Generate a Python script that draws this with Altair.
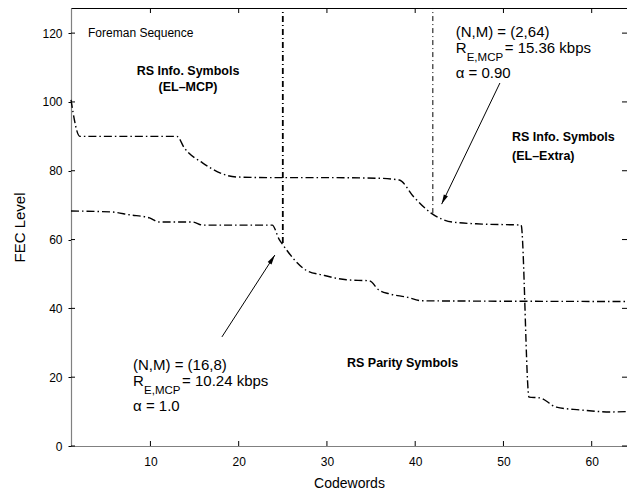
import math
import altair as alt
import pandas as pd

# ---- data ----
upper_codewords = [1, 2, 13, 13.85, 15.9, 19.7, 24, 30, 36, 38.2, 39.8, 41.8, 44.2, 47.6, 52, 52.9, 54.1, 56, 58.6, 62.3, 64]
upper_fec = [100.6, 90, 90, 86.6, 82.3, 78.2, 78, 78, 77.8, 77.3, 72.5, 67.7, 65.1, 64.5, 64.2, 14.2, 14, 11.3, 10.5, 9.9, 10]

lower_codewords = [1, 5.7, 7.6, 9.9, 11, 14.8, 15.9, 23.8, 24.6, 25, 27.7, 29.5, 32.2, 34.8, 35.9, 37.1, 39, 40.8, 64]
lower_fec = [68.3, 68, 67.2, 66.3, 65.1, 65.1, 64.2, 64.2, 60, 58.5, 51, 49.7, 48.3, 48, 45.3, 44.2, 43.3, 42.2, 42]

marker_codewords = [25, 42]
marker_fec = [59, 67.7]

x_ticks = [10, 20, 30, 40, 50, 60]
y_ticks = [0, 20, 40, 60, 80, 100, 120]

arrow_from_x = [49.6, 18.1]
arrow_from_y = [105.5, 31.7]
arrow_to_x = [43.0, 24.1]
arrow_to_y = [70.3, 55.5]

note_small_text = ["Foreman Sequence"]
note_small_x = [2.93]
note_small_y = [120.0]

bold_center_text = ["RS Info. Symbols", "(EL–MCP)"]
bold_center_x = [14.26, 14.26]
bold_center_y = [109.0, 104.4]

bold_left_text = ["RS Info. Symbols", "(EL–Extra)", "RS Parity Symbols"]
bold_left_x = [50.97, 50.97, 32.27]
bold_left_y = [89.8, 84.3, 24.1]

ann_main_text = ["(N,M) = (2,64)", "R", "α = 0.90", "(N,M) = (16,8)", "R", "α = 1.0"]
ann_main_x = [44.59, 44.59, 44.59, 8.03, 8.03, 8.03]
ann_main_y = [120.4, 115.8, 108.4, 23.6, 18.8, 11.6]

ann_sub_text = ["E,MCP", "E,MCP"]
ann_sub_x = [44.59, 8.03]
ann_sub_y = [112.9, 16.0]

ann_rest_text = ["= 15.36 kbps", "= 10.24 kbps"]
ann_rest_x = [44.59, 8.03]
ann_rest_y = [115.8, 18.8]

# ---- layout ----
W, H = 556, 438
X_DOM = [1, 64]
Y_DOM = [0, 127.3]
FONT = "Liberation Sans"

xs = alt.Scale(domain=X_DOM, nice=False, zero=False)
ys = alt.Scale(domain=Y_DOM, nice=False, zero=False)

x_axis = alt.Axis(values=x_ticks, tickSize=0, labelPadding=10, title="Codewords",
                  titleFontSize=14, titleFont=FONT, titleFontWeight="normal", titlePadding=9,
                  titleColor="black", labelFont=FONT, labelFontSize=12, labelColor="black",
                  grid=False, domainColor="#808080", domainWidth=1.2)
y_axis = alt.Axis(values=y_ticks, tickSize=3, tickColor="black", labelPadding=6, title="FEC Level",
                  titleFontSize=15, titleFont=FONT, titleFontWeight="normal", titlePadding=14,
                  titleColor="black", labelFont=FONT, labelFontSize=12, labelColor="black",
                  grid=False, domainColor="#808080", domainWidth=1.2)


def X(field="x"):
    return alt.X(f"{field}:Q", scale=xs, axis=x_axis)


def Y(field="y"):
    return alt.Y(f"{field}:Q", scale=ys, axis=y_axis)


df_upper = pd.DataFrame({"x": upper_codewords, "y": upper_fec})
df_lower = pd.DataFrame({"x": lower_codewords, "y": lower_fec})

dash_curve = [8, 3, 1.5, 3]

upper = alt.Chart(df_upper).mark_line(interpolate="monotone", color="black", strokeWidth=1.4,
                                      strokeDash=dash_curve).encode(x=X(), y=Y())
lower = alt.Chart(df_lower).mark_line(interpolate="monotone", color="black", strokeWidth=1.4,
                                      strokeDash=dash_curve).encode(x=X(), y=Y())

df_m1 = pd.DataFrame({"x": marker_codewords[:1], "y": marker_fec[:1]})
df_m2 = pd.DataFrame({"x": marker_codewords[1:], "y": marker_fec[1:]})
m1 = alt.Chart(df_m1).mark_rule(color="black", strokeWidth=1.8, strokeDash=[6, 3, 1, 3]).encode(
    x=X(), y=Y(), y2=alt.value(0))
m2 = alt.Chart(df_m2).mark_rule(color="black", strokeWidth=1, strokeDash=[5, 3, 1, 3]).encode(
    x=X(), y=Y(), y2=alt.value(0))

# inward ticks on all four sides
df_xt = pd.DataFrame({"x": x_ticks})
df_yt = pd.DataFrame({"y": y_ticks})
tb = alt.Chart(df_xt).mark_rule(color="black").encode(x=X(), y=alt.value(H), y2=alt.value(H - 5))
tt = alt.Chart(df_xt).mark_rule(color="black").encode(x=X(), y=alt.value(0), y2=alt.value(5))
tl = alt.Chart(df_yt).mark_rule(color="black").encode(y=Y(), x=alt.value(0), x2=alt.value(4))
tr = alt.Chart(df_yt).mark_rule(color="black").encode(y=Y(), x=alt.value(W), x2=alt.value(W - 5))

# arrows
px_x = W / (X_DOM[1] - X_DOM[0])
px_y = H / (Y_DOM[1] - Y_DOM[0])
angles = []
for x1, y1, x2, y2 in zip(arrow_from_x, arrow_from_y, arrow_to_x, arrow_to_y):
    dxp = (x2 - x1) * px_x
    dyp = -(y2 - y1) * px_y
    angles.append(math.degrees(math.atan2(dxp, -dyp)) % 360)
df_arr = pd.DataFrame({"x": arrow_from_x, "y": arrow_from_y, "x2": arrow_to_x, "y2": arrow_to_y, "ang": angles})
arr_line = alt.Chart(df_arr).mark_rule(color="black", strokeWidth=1).encode(
    x=X(), y=Y(), x2="x2:Q", y2="y2:Q")
arr_head = alt.Chart(df_arr).mark_point(shape="M0,0L-0.4,1.7L0.4,1.7Z", filled=True, color="black",
                                         size=130, opacity=1).encode(
    x=X("x2"), y=Y("y2"), angle=alt.Angle("ang:Q", scale=None))


def text_layer(texts, xv, yv, size, weight="normal", align="left", dx=0):
    df = pd.DataFrame({"x": xv, "y": yv, "t": texts})
    return alt.Chart(df).mark_text(font=FONT, fontSize=size, fontWeight=weight, align=align,
                                   baseline="middle", color="black", dx=dx).encode(
        x=X(), y=Y(), text="t:N")


t_small = text_layer(note_small_text, note_small_x, note_small_y, 12)
t_bc = text_layer(bold_center_text, bold_center_x, bold_center_y, 12.5, "bold", "center")
t_bl = text_layer(bold_left_text, bold_left_x, bold_left_y, 12.5, "bold", "left")
t_main = text_layer(ann_main_text, ann_main_x, ann_main_y, 15)
t_sub = text_layer(ann_sub_text, ann_sub_x, ann_sub_y, 11.5, dx=11)
t_rest = text_layer(ann_rest_text, ann_rest_x, ann_rest_y, 15, dx=49)

chart = alt.layer(upper, lower, m1, m2, tb, tt, tl, tr, arr_line, arr_head,
                  t_small, t_bc, t_bl, t_main, t_sub, t_rest).properties(
    width=W, height=H,
    autosize=alt.AutoSizeParams(type="none"),
    padding={"left": 63, "top": 0, "right": 0, "bottom": 48},
).configure_view(stroke="black", strokeWidth=1)

chart.save("out.html", embed_options={"renderer": "svg", "actions": False})
